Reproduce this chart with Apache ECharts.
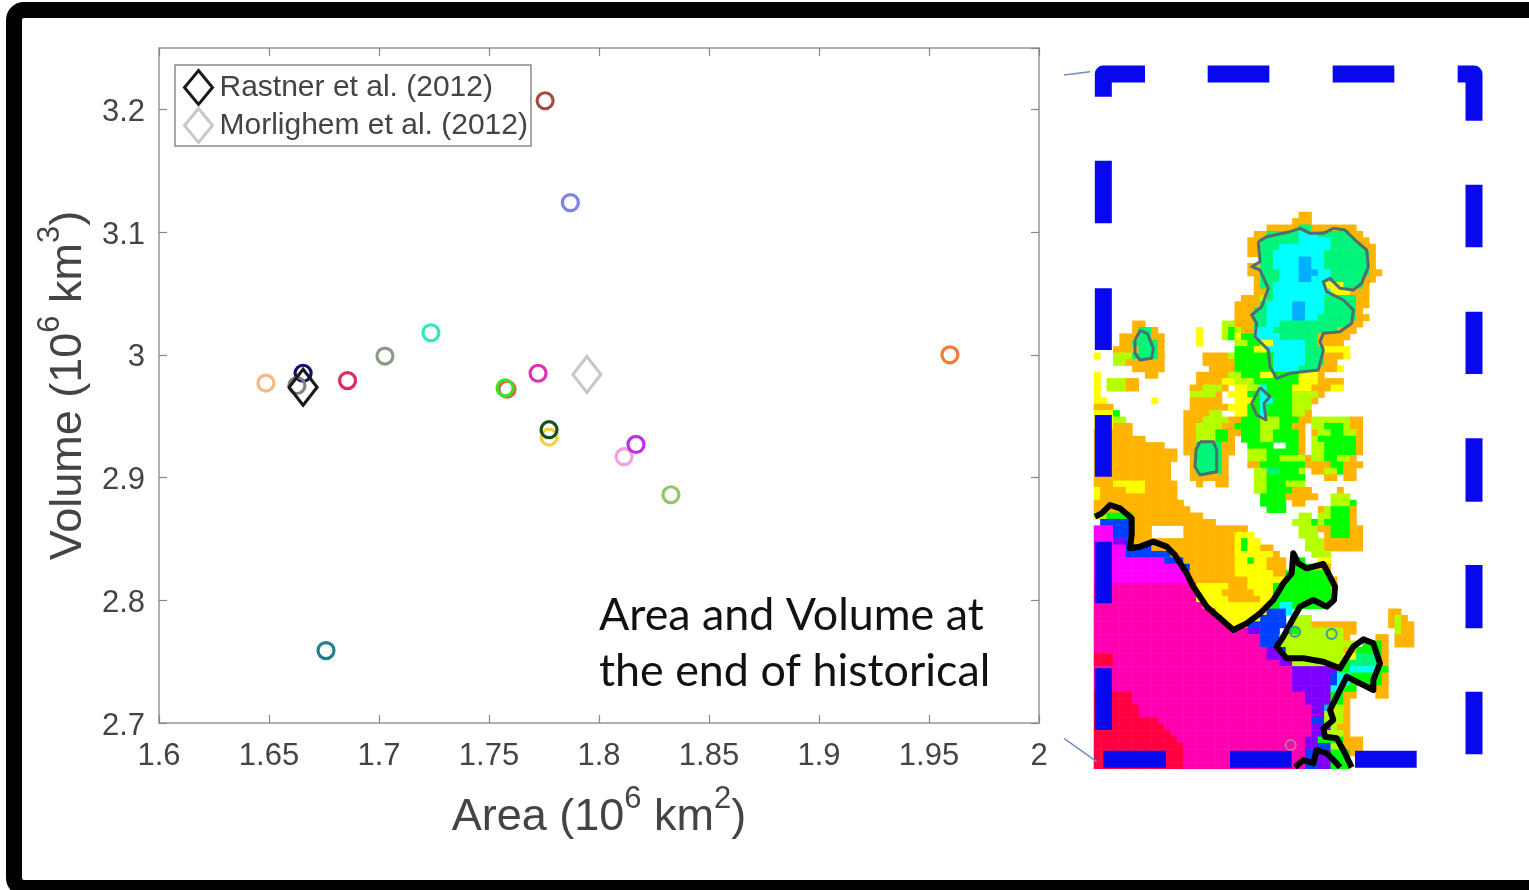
<!DOCTYPE html>
<html><head><meta charset="utf-8">
<script src="https://cdn.jsdelivr.net/npm/echarts@6/dist/echarts.min.js"></script>
<style>html,body{margin:0;padding:0;background:#fff;overflow:hidden}#c{width:1529px;height:890px}</style>
</head><body><div id="c"></div>
<script>
// Scatter: models (area, volume in 10^6 km2 / km3)
const modelArea   = [1.7755,1.787,1.7236,1.7027,1.9595,1.6486,1.6655,1.6627,1.6857,1.7582,1.7573,1.7723,1.7773,1.7773,1.8114,1.8168,1.8327,1.6759];
const modelVolume = [3.207,3.124,3.018,2.999,3.000,2.977,2.985,2.975,2.979,2.972,2.973,2.985,2.933,2.939,2.917,2.927,2.886,2.759];
const modelColors = ['#a84a44','#8080f0','#30e8c0','#8a9a85','#f07a30','#f8b880','#101070','#808080','#d8305c','#e06050','#40e020','#e030b0','#f8d040','#1a5020','#f0a0e0','#c030e8','#90c860','#20808f'];
const rastner = [1.6655,2.9736];
const morlighem = [1.7945,2.984];
const xTicksInterval = 0.05, yTicksInterval = 0.1;
const caption = 'Area and Volume at\nthe end of historical';

// Inset map raster: each row lists "from-to + colour key" cell runs
const mapColors = {o:'#FFB400',y:'#FFFF00',l:'#B4FF00',g:'#00FF00',s:'#00F57A',c:'#00FFFF',b:'#00B0FF',B:'#0040FF',v:'#8000FF',m:'#FF00FF',p:'#FF00B0',r:'#FF0040'};
const mapRows = [
"32-33o","31-33o","27-31o 32-33s 34-40o","25-26o 27-31s 32-34c 35-39s 40-41o","24-25o 26-31s 32-36c 37-40s 41-42o",
"24-25o 26-28s 29-36c 37-41s 42-43o","24-25o 26-27s 28-35c 36-42s 43o","26-27s 28-31c 32-33b 34-35c 36-42s 43o",
"24-25o 26-27s 28-31c 32-33b 34-35c 36-42s 43o","24-25o 26-28s 29-31c 32-34b 35-36c 37-42s 43-44o",
"25o 26-28s 29-31c 32-33b 34-36c 37-41s 42-43o","25o 26-27s 28-35c 36-38y 39-41s 42o","25-26o 27s 28-36c 37-39y 40-42o",
"23-25o 26l 27s 28-35c 36-40s 41-42o","22-25o 26s 27-30c 31-32b 33-35c 36-40s 41-42o","22-24o 25-26s 27-30c 31-32b 33-35c 36-40s 41o",
"22-24o 25-26s 27-30c 31-32b 33-34c 35-40s 41-42o","6-7o 20-21l 22-24o 25-26s 27-28c 29-39s 40-41o",
"6o 7-8s 9o 16y 20l 21g 22l 23-24o 25-27c 28-37s 38-40o","4-6o 7-8s 9-10o 16y 20l 21g 22y 23-24g 25-28c 29-34s 35-39o",
"4-5o 6s 7-9s 10o 16y 22-23l 24-25g 26-27y 28-32c 33-34s 35-38o","3-6o 7-9s 10o 22-24g 25-26y 27-32c 33-35s 36-39y",
"0y 3-5l 6-9s 10o 17-20o 21l 22-27g 28-32c 33-35s 36-38o 39y","3-4l 5-10o 17-21o 22-27g 28-32c 33-35s 36-37o",
"6-10o 18-21o 22-27g 28-31c 32-34s 35-37o 38y","0y 8-9o 16-20o 21-22l 23-25g 26-27y 28-31g 32-34y 35o","0y 2-4l 5-6o 16-19o 20-21y 22-24l 25-26g 27-31g 32-34y 35-38o",
"0y 2-4l 5-6o 15-16o 17-19l 20o 22-23y 24-25l 26c 27g 28-30g 31-33y 34-36o 37-38y","0y 15-18l 19o 21-23y 24-25g 26c 27-30g 31-34l 35o",
"0-1y 9y 15-19o 22-24y 25g 26-27c 28-30g 31-33l 34o","0-2o 15-20o 21-23y 24-25g 26c 27-30g 31-33l",
"0-2y 3g 14-17o 18-19l 22-23y 24-25g 26c 27-30g 31-32l 33o","0-2y 3-4l 14-16o 17-20l 21-22o 23-25g 26-28l 29-31g 32-33o 34-39l 40-41o",
"0-2y 3-5o 14-15o 16-19l 20-21o 22-25g 26-28l 29-30g 31-32o 34-35l 36-38g 39l 40-41o","0-5o 14-15o 16-18l 19-20g 21-22o 23-25g 26-27l 28-31g 32o 34o 35-36l 37-38g 39-40l 41o",
"0-7o 14-15o 16-18l 19-20g 21o 23-25g 26-27l 28-31g 32o 34l 35-40g 41o","0-10o 14-15o 16-19s 20-21o 24-27g 30-31g 32o 34-35l 36-40g 41o",
"0-12o 14-15o 16-19s 20-21o 24-26l 27-31g 32o 34-35l 36-40g 41o","0-12o 15o 16-19s 20o 24-26l 27-28g 29-32l 33o 34-35l 36-37g 38-39l 40o",
"0-11o 15o 16-19s 20o 24-25o 26-32g 33-36o 37-38g 39-41o","0-11o 15o 16-19s 20o 25-26l 27-28s 29-31g 32l 34-35o 36-37l 38g 39-40o",
"0-11o 15-20o 25-26l 27-32g 36-37o 39-40o","0-2o 3-7y 8-12o 16o 19-20o 25-26l 27-29g 30-32l","0y 1-4o 5-7y 8-12o 25-26l 27-30g 31-33o 38o",
"0y 1-12o 26-29g 30-34o 37-39l","0-13o 26-29g 31-32o 37-39l 40g","0-14o 27-29g 35o 36l 37-39g 40o","0-1l 2-3g 4-5g 6-16o 32-33l 35-36l 37-39g 40o",
"1-5B 6-18o 31-33l 34g 35l 36-39g 40o","0-2m 3-5B 6-8o 14-23o 32-34l 35-36o 37-39g 40-41o","0-2m 3-5B 6-8o 14-21o 22-24y 32-34l 36o 37-39g 40-41o",
"0-2m 3-4v 5B 6-21o 22y 23g 24-25y 33-35l 36-41o","0-4m 5-8B 9-21o 22y 23g 24-25y 26-27o 33-35l 36-41o","0-4m 5-11B 12-21o 22-27y 28o 34-36l",
"0-10m 11-13B 14-21o 22-23y 24g 25-26y 27-29o 31-32g 35-36y","0-13m 14B 15-21o 22-26y 27-29o 31-33g 34-36o","0-14m 15-21o 22-27y 28-29o 30-36g",
"0-14m 15-23o 24-29y 30-36g 37o","0-15p 16-20y 21-23o 24-27y 28-36g 37o","0-15p 16-19y 20-24o 25-27y 28-36g","0-15p 16-20y 21-25o 26-27y 28-36g",
"0-16p 17-26y 27-28g 29-30c 31-35g","0-18p 19-26y 27-29B 30c 46-47o","0-19p 20-25y 26-29B 31-33l 46o 47l 48o","0-20p 21-23y 24-29B 31-33l 34-40o 46o 47l 48-49o",
"0-23p 24-25v 26-28B 30-31g 32-38l 39-40o 47l 48-49o","0-25p 26-28B 29-38l 39o 44-45o 47-49o","0-25p 26-28B 29-40l 42-44g 45o 47-49o",
"0-26p 27-28v 29B 30-38l 39-40o 41-44g 45o","0-2r 3-26p 27-29v 30-38l 39-40y 41-44s 45o","0-2r 3-28p 29-30v 31-38l 39g 40-44s 45o",
"0-30p 31-37v 38-39g 40-43c 44-45g","0-30p 31-36v 37B 38-39c 40-44g 45o","0-30p 31-36v 37B 38-39c 40-44g 45o","0-30p 31-36v 37-38c 39-40g 44-45o",
"0-5r 6-32p 33-36v 37-38g 39-40o 44-45o","0-5r 6-32p 33-36v 37-38g 39o","0-6r 7-33p 34-35v 36b 37-38l 39o","0-6r 7-33p 34-35v 36-38l 39o",
"0-9r 10-33p 34-35B 36-38l 39o","0-10r 11-33p 34-36v 37l 38-39o","0-11r 12-33p 34-35v 36-38l 39o","0-12r 13-32p 33-34v 35-38g 39-41o",
"0-13r 14-32p 33-34v 35-36B 37-38l 39-41o","0-13r 14-32p 33-34B 35-36v 37-39g 40-41o","0-13r 14-32p 33-34B 35-36v 37-39g","0-13r 14-32p 33-34B 35-36v 37-39g"
];
const mapCols = 50;

// Contours and dashed frame, in inset plot units (upper and lower panels)
const greyUpperMain = [[595,575],[620,560],[690,545],[720,535],[750,550],[790,550],[820,535],[855,540],[885,570],[920,600],[925,650],[905,700],[880,720],[840,715],[810,685],[790,695],[800,725],[850,750],[880,780],[875,820],[840,845],[790,850],[780,875],[790,900],[775,960],[690,970],[650,985],[630,950],[625,900],[585,860],[590,820],[575,795],[605,770],[625,715],[600,660],[575,650],[600,635],[595,575]];
const greyUpperSmall = [[225,870],[240,842],[262,850],[280,895],[275,925],[240,930],[225,910],[225,870]];
const greyUpperLow = [[600,1012],[630,1040],[612,1060],[618,1110],[590,1095],[575,1060],[600,1012]];
const greyLowerBlob = [[420,95],[460,95],[470,120],[470,185],[420,195],[405,170],[408,120],[420,95]];
const blackMain = [[105,320],[125,310],[150,285],[180,295],[215,325],[215,375],[210,415],[240,410],[280,395],[320,410],[345,435],[380,490],[400,530],[440,590],[480,625],[520,660],[560,640],[600,610],[640,570],[670,520],[695,490],[700,430],[715,460],[740,475],[790,462],[810,500],[825,530],[822,570],[800,590],[760,570],[720,590],[700,625],[670,680],[650,710],[680,745],[730,745],[790,755],[840,775],[880,710],[910,688],[940,700],[960,760],[940,810],[940,840],[900,820],[860,800],[830,860],[810,900],[820,930],[790,955],[795,980],[830,985],[850,1020],[875,1072]];
const blackBottom = [[705,1072],[730,1050],[760,1060],[770,1020],[800,1030],[830,1060],[840,1072]];
const islands = [[705,665,'#3a9a9a'],[815,672,'#3a9a9a'],[692,1005,'#b07a9a']];
const frameUpper = [[130,140],[130,72],[255,72],['-','-'],[443,72],[628,72],['-','-'],[818,72],[1003,72],['-','-'],[1193,72],[1242,72],[1242,212],['-','-'],[1242,404],[1242,592],['-','-'],[1242,785],[1242,972],['-','-'],[130,332],[130,520],['-','-'],[130,715],[130,900]];
const frameLower = [[1242,85],[1242,275],['-','-'],[1242,465],[1242,655],['-','-'],[1242,845],[1242,1033],['-','-'],[130,15],[130,200],['-','-'],[130,395],[130,580],['-','-'],[130,775],[130,960],['-','-'],[130,1048],[318,1048],['-','-'],[510,1048],[695,1048],['-','-'],[885,1048],[1070,1048]];
const calloutUpper = [[12,75],[90,65]];
const calloutLower = [[12,985],[110,1055]];

const cells = [];
mapRows.forEach((row, r) => {
  row.split(' ').forEach(tok => {
    const m = tok.match(/^(\d+)(?:-(\d+))?([a-zA-Z])$/);
    if (!m) return;
    const a = +m[1], b = m[2] ? +m[2] : a;
    for (let c = a; c <= b; c++) cells.push({value:[c, r, 1], itemStyle:{color:mapColors[m[3]]}});
  });
});
const idx = n => Array.from({length:n}, (_, i) => i);

const txt = '#444';
const sans = '"Liberation Sans",Arial,sans-serif';
const nameRich = {
  m:{fontFamily:sans, fontSize:45, color:txt, lineHeight:56, verticalAlign:'bottom'},
  s:{fontFamily:sans, fontSize:31, color:txt, lineHeight:34, verticalAlign:'top'}
};
const hiddenVal = (extra) => Object.assign({type:'value', show:false, scale:true}, extra);
const line = (name, data, color, width, xi, z) => ({type:'line', name, data, xAxisIndex:xi, yAxisIndex:xi+0, symbol:'none', clip:false, silent:true, z, lineStyle:{color, width, join:'round'}, connectNulls:false, animation:false});
const axisGrey = {lineStyle:{color:'#b0b0b0', width:2}};
const tickGrey = {inside:true, length:8, lineStyle:{color:'#888', width:1.2}};

const modelSeries = modelArea.map((a, i) => ({
  type:'scatter', name:'Model ' + (i + 1), data:[[a, modelVolume[i]]], xAxisIndex:0, yAxisIndex:0,
  symbol:'circle', symbolSize:16, z:3, itemStyle:{color:'transparent', borderColor:modelColors[i], borderWidth:3.2, opacity:1}
}));

const option = {
  animation:false,
  backgroundColor:'#fff',
  graphic:[{type:'rect', silent:true, z:-10, shape:{x:14, y:10, width:1600, height:878, r:10}, style:{fill:'none', stroke:'#000', lineWidth:16}}],
  title:{text:caption, left:599, top:588, padding:0, z:20, textStyle:{fontFamily:'Lato', fontSize:44.8, fontWeight:'normal', color:'#111', lineHeight:56}},
  legend:{
    left:175, top:65, orient:'vertical', padding:[4,3,2,8], itemGap:1, itemWidth:28, itemHeight:34,
    borderColor:'#8a8a8a', borderWidth:1.5, backgroundColor:'#fff', z:10,
    data:['Rastner et al. (2012)','Morlighem et al. (2012)'],
    icon:'diamond', itemStyle:{borderWidth:3},
    textStyle:{fontFamily:sans, fontSize:30, lineHeight:30, color:txt, padding:[0,0,0,2]}
  },
  grid:[
    {left:159, top:48, width:880, height:675},
    {left:1094, top:212, width:mapCols*6.4, height:mapRows.length*6.4},
    {left:1060, top:50, width:440, height:370},
    {left:1060, top:410, width:440, height:370}
  ],
  xAxis:[
    {type:'value', gridIndex:0, min:1.6, max:2, interval:xTicksInterval, position:'bottom',
     name:'{m|Area (10}{s|6}{m| km}{s|2}{m|)}', nameLocation:'middle', nameGap:61,
     nameTextStyle:{rich:nameRich},
     axisLine:axisGrey, axisTick:tickGrey,
     axisLabel:{fontFamily:sans, fontSize:31, color:txt, margin:18}, splitLine:{show:false}},
    {type:'value', gridIndex:0, min:1.6, max:2, interval:xTicksInterval, position:'top',
     axisLine:axisGrey, axisTick:tickGrey, axisLabel:{show:false}, splitLine:{show:false}},
    {type:'category', gridIndex:1, data:idx(mapCols), show:false},
    hiddenVal({gridIndex:2, min:0, max:1320}),
    hiddenVal({gridIndex:3, min:0, max:1320})
  ],
  yAxis:[
    {type:'value', gridIndex:0, min:2.7, max:3.25, interval:yTicksInterval, position:'left',
     name:'{m|Volume (10}{s|6}{m| km}{s|3}{m|)}', nameLocation:'middle', nameGap:57,
     nameTextStyle:{rich:nameRich},
     axisLine:axisGrey, axisTick:tickGrey,
     axisLabel:{color:txt, margin:14, showMaxLabel:false, formatter:'{v|{value}}',
       rich:{v:{fontFamily:sans, fontSize:31, color:txt, padding:[6,0,0,0]}}}, splitLine:{show:false}},
    {type:'value', gridIndex:0, min:2.7, max:3.25, interval:yTicksInterval, position:'right',
     axisLine:axisGrey, axisTick:tickGrey, axisLabel:{show:false}, splitLine:{show:false}},
    {type:'category', gridIndex:1, data:idx(mapRows.length), inverse:true, show:false},
    hiddenVal({gridIndex:2, min:0, max:1110, inverse:true}),
    hiddenVal({gridIndex:3, min:0, max:1110, inverse:true})
  ],
  series:[
    ...modelSeries,
    {type:'scatter', name:'Rastner et al. (2012)', data:[rastner], xAxisIndex:0, yAxisIndex:0, symbol:'diamond', symbolSize:[28,36], z:4,
     itemStyle:{color:'transparent', borderColor:'#1a1a1a', borderWidth:3.2, opacity:1}},
    {type:'scatter', name:'Morlighem et al. (2012)', data:[morlighem], xAxisIndex:0, yAxisIndex:0, symbol:'diamond', symbolSize:[28,36], z:4,
     itemStyle:{color:'transparent', borderColor:'#c8c8c8', borderWidth:3.2, opacity:1}},
    {type:'heatmap', name:'Map', data:cells, xAxisIndex:2, yAxisIndex:2, silent:true, z:2},
    line('Frame upper', frameUpper, '#0808EE', 17, 3, 5),
    line('Frame lower', frameLower, '#0808EE', 17, 4, 5),
    line('Contour main', greyUpperMain, '#4f6f6f', 3, 3, 6),
    line('Contour small', greyUpperSmall, '#4f6f6f', 3, 3, 6),
    line('Contour low', greyUpperLow, '#4f6f6f', 3, 3, 6),
    line('Contour blob', greyLowerBlob, '#4f6f6f', 3, 4, 6),
    line('Margin main', blackMain, '#000', 6, 4, 6),
    line('Margin bottom', blackBottom, '#000', 6, 4, 6),
    line('Callout upper', calloutUpper, '#6f8fc0', 1.5, 3, 6),
    line('Callout lower', calloutLower, '#6f8fc0', 1.5, 4, 6),
    {type:'scatter', name:'Islands', xAxisIndex:4, yAxisIndex:4, clip:false, silent:true, symbol:'circle', symbolSize:10, z:6,
     data:islands.map(d => ({value:[d[0], d[1]], itemStyle:{color:'transparent', borderColor:d[2], borderWidth:2, opacity:1}}))}
  ]
};
echarts.init(document.getElementById('c'), null, {renderer:'canvas'}).setOption(option);
</script></body></html>
